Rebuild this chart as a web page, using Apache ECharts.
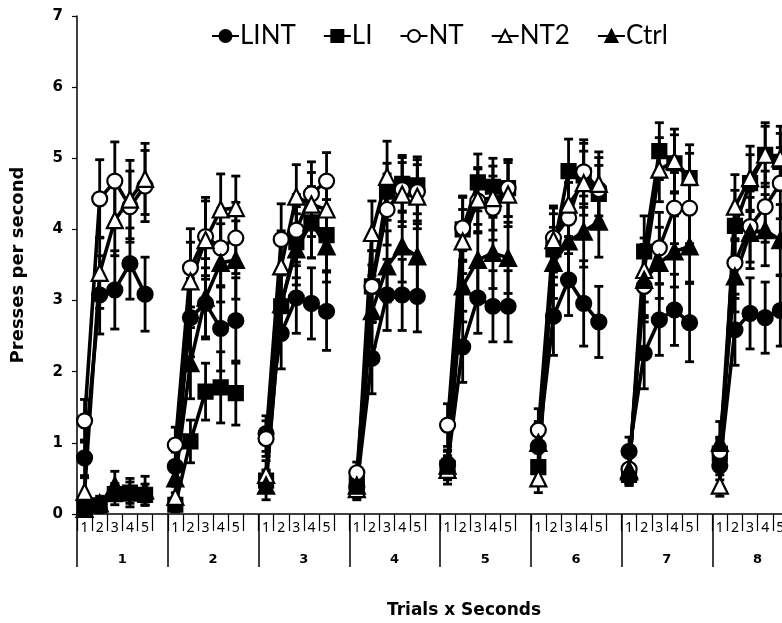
<!DOCTYPE html>
<html>
<head>
<meta charset="utf-8">
<script src="https://cdn.jsdelivr.net/npm/echarts@6/dist/echarts.min.js"></script>
<style>html,body{margin:0;padding:0;background:#fff;overflow:hidden;width:782px;height:623px}#c{width:804px;height:623px}</style>
</head>
<body>
<div id="c"></div>
<script>
// ---- data ----
const subLabels = ['1', '2', '3', '4', '5', ''];
const trialLabels = ['1', '2', '3', '4', '5', '6', '7', '8'];
const yTicks = [0, 1, 2, 3, 4, 5, 6, 7];

const LINT = [
  [0.79, 3.08, 3.15, 3.52, 3.09],
  [0.67, 2.76, 2.96, 2.61, 2.72],
  [1.13, 2.54, 3.04, 2.96, 2.85],
  [0.38, 2.19, 3.08, 3.08, 3.06],
  [0.70, 2.35, 3.04, 2.92, 2.92],
  [0.95, 2.78, 3.29, 2.96, 2.70],
  [0.88, 2.26, 2.73, 2.87, 2.69],
  [0.68, 2.59, 2.82, 2.76, 2.86]
];
const LI = [
  [0.10, 0.12, 0.28, 0.30, 0.27],
  [0.13, 1.02, 1.72, 1.78, 1.70],
  [0.47, 2.92, 3.82, 4.10, 3.92],
  [0.42, 3.20, 4.53, 4.64, 4.62],
  [0.65, 4.00, 4.66, 4.60, 4.58],
  [0.66, 3.72, 4.82, 4.76, 4.50],
  [0.55, 3.69, 5.10, 4.93, 4.72],
  [0.85, 4.05, 4.65, 5.05, 4.95]
];
const NT = [
  [1.31, 4.43, 4.68, 4.32, 4.61],
  [0.97, 3.46, 3.90, 3.74, 3.88],
  [1.06, 3.86, 3.99, 4.50, 4.68],
  [0.58, 3.20, 4.28, 4.56, 4.53],
  [1.25, 4.02, 4.40, 4.30, 4.58],
  [1.18, 3.88, 4.16, 4.81, 4.56],
  [0.63, 3.20, 3.74, 4.30, 4.30],
  [0.88, 3.53, 4.04, 4.32, 4.65]
];
const NT2 = [
  [0.31, 3.39, 4.13, 4.42, 4.71],
  [0.24, 3.27, 3.85, 4.28, 4.30],
  [0.55, 3.48, 4.46, 4.35, 4.28],
  [0.35, 3.95, 4.74, 4.49, 4.46],
  [0.62, 3.83, 4.42, 4.44, 4.49],
  [0.50, 3.85, 4.35, 4.65, 4.64],
  [0.60, 3.43, 4.84, 4.96, 4.74],
  [0.40, 4.32, 4.72, 5.05, 5.00]
];
const Ctrl = [
  [0.07, 0.15, 0.40, 0.30, 0.33],
  [0.50, 2.12, 3.04, 3.53, 3.57],
  [0.40, 2.95, 3.72, 4.10, 3.76],
  [0.40, 2.85, 3.48, 3.76, 3.62],
  [0.68, 3.20, 3.57, 3.67, 3.60],
  [1.00, 3.53, 3.83, 3.97, 4.11],
  [0.62, 3.29, 3.53, 3.69, 3.76],
  [1.00, 3.34, 3.95, 3.99, 3.85]
];
// standard errors
const LINT_se = [
  [0.25, 0.55, 0.55, 0.50, 0.52],
  [0.20, 0.55, 0.50, 0.60, 0.60],
  [0.25, 0.50, 0.50, 0.50, 0.55],
  [0.15, 0.50, 0.50, 0.50, 0.50],
  [0.20, 0.50, 0.50, 0.50, 0.50],
  [0.30, 0.55, 0.50, 0.60, 0.50],
  [0.20, 0.50, 0.50, 0.50, 0.55],
  [0.20, 0.50, 0.50, 0.50, 0.50]
];
const LI_se = [
  [0.05, 0.10, 0.15, 0.15, 0.15],
  [0.10, 0.30, 0.40, 0.50, 0.45],
  [0.15, 0.45, 0.50, 0.50, 0.50],
  [0.15, 0.50, 0.40, 0.40, 0.40],
  [0.15, 0.45, 0.40, 0.40, 0.40],
  [0.20, 0.50, 0.45, 0.45, 0.40],
  [0.10, 0.50, 0.40, 0.40, 0.35],
  [0.20, 0.50, 0.40, 0.40, 0.40]
];
const NT_se = [
  [0.30, 0.55, 0.55, 0.50, 0.50],
  [0.25, 0.55, 0.55, 0.55, 0.50],
  [0.25, 0.50, 0.50, 0.45, 0.40],
  [0.15, 0.50, 0.50, 0.45, 0.45],
  [0.30, 0.45, 0.45, 0.45, 0.40],
  [0.30, 0.45, 0.50, 0.45, 0.45],
  [0.20, 0.50, 0.50, 0.50, 0.50],
  [0.20, 0.50, 0.50, 0.50, 0.50]
];
const NT2_se = [
  [0.20, 0.50, 0.50, 0.55, 0.50],
  [0.15, 0.55, 0.55, 0.50, 0.45],
  [0.20, 0.50, 0.45, 0.45, 0.45],
  [0.15, 0.45, 0.50, 0.45, 0.45],
  [0.20, 0.45, 0.45, 0.45, 0.45],
  [0.20, 0.45, 0.45, 0.45, 0.45],
  [0.20, 0.45, 0.45, 0.45, 0.45],
  [0.15, 0.45, 0.45, 0.45, 0.45]
];
const Ctrl_se = [
  [0.05, 0.10, 0.20, 0.20, 0.20],
  [0.20, 0.50, 0.55, 0.55, 0.55],
  [0.20, 0.50, 0.50, 0.50, 0.50],
  [0.15, 0.50, 0.50, 0.50, 0.50],
  [0.20, 0.50, 0.50, 0.50, 0.50],
  [0.30, 0.50, 0.50, 0.50, 0.50],
  [0.20, 0.50, 0.50, 0.50, 0.50],
  [0.30, 0.50, 0.50, 0.50, 0.50]
];

// ---- build ----
const cats = [];
trialLabels.forEach((t, ti) => subLabels.forEach((s, si) => cats.push('t' + t + 's' + si)));

function flat(arr) {
  const out = [];
  arr.forEach(tr => { tr.forEach(v => out.push(v)); out.push(null); });
  return out;
}
function errData(mean, se) {
  const out = [];
  mean.forEach((tr, ti) => tr.forEach((v, j) => out.push([ti * 6 + j, v, se[ti][j]])));
  return out;
}

const FONT = 'DejaVu Sans';
const groups = [
  { name: 'LINT', data: LINT, se: LINT_se, symbol: 'circle', size: 15, fill: '#000' },
  { name: 'LI', data: LI, se: LI_se, symbol: 'rect', size: 14, fill: '#000' },
  { name: 'NT', data: NT, se: NT_se, symbol: 'circle', size: 15, fill: '#fff' },
  { name: 'NT2', data: NT2, se: NT2_se, symbol: 'triangle', size: 16, fill: '#fff' },
  { name: 'Ctrl', data: Ctrl, se: Ctrl_se, symbol: 'triangle', size: 16, fill: '#000' }
];

const series = [];
groups.forEach(g => {
  series.push({
    type: 'custom',
    name: g.name + '_err',
    xAxisIndex: 0,
    z: 1,
    silent: true,
    data: errData(g.data, g.se),
    renderItem: function (params, api) {
      const x = api.value(0), m = api.value(1), e = api.value(2);
      const top = api.coord([x, m + e]);
      const bot = api.coord([x, m - e]);
      const w = 4.5;
      const st = { stroke: '#000', lineWidth: 2.8 };
      return {
        type: 'group',
        children: [
          { type: 'line', shape: { x1: top[0], y1: top[1], x2: bot[0], y2: bot[1] }, style: st },
          { type: 'line', shape: { x1: top[0] - w, y1: top[1], x2: top[0] + w, y2: top[1] }, style: st },
          { type: 'line', shape: { x1: bot[0] - w, y1: bot[1], x2: bot[0] + w, y2: bot[1] }, style: st }
        ]
      };
    }
  });
});
groups.forEach(g => {
  series.push({
    type: 'line',
    name: g.name,
    xAxisIndex: 0,
    z: 3,
    data: flat(g.data),
    symbol: g.symbol,
    symbolSize: g.size,
    showAllSymbol: true,
    connectNulls: false,
    lineStyle: { color: '#000', width: 3.6 },
    itemStyle: { color: g.fill, borderColor: '#000', borderWidth: 2.2 },
    emphasis: { disabled: true },
    animation: false
  });
});

const chart = echarts.init(document.getElementById('c'), null, { renderer: 'canvas' });
chart.setOption({
  animation: false,
  backgroundColor: '#fff',
  title: {
    text: 'Trials x Seconds',
    left: 459, top: 597, textAlign: 'center',
    textStyle: { fontFamily: FONT, fontWeight: 'bold', fontSize: 17, color: '#000' }
  },
  legend: {
    data: groups.map(g => g.name),
    top: 18, left: 206,
    itemWidth: 27, itemHeight: 15, itemGap: 27,
    textStyle: { fontFamily: 'Lato', fontSize: 26, color: '#000', padding: [0, 0, 0, -4] },
    selectedMode: false
  },
  grid: { left: 77, top: 16, height: 498, width: 726, containLabel: false },
  xAxis: [
    {
      type: 'category', data: cats, position: 'bottom', boundaryGap: true,
      axisLine: { show: true, lineStyle: { color: '#000', width: 1.5 } },
      axisTick: { show: true, interval: 0, length: 17, lineStyle: { color: '#000', width: 1.2 } },
      axisLabel: {
        interval: 0, margin: 7, color: '#000', fontFamily: 'Noto Sans', fontSize: 14,
        formatter: (v, i) => subLabels[i % 6]
      },
      splitLine: { show: false }
    },
    {
      type: 'category', data: trialLabels, position: 'bottom', boundaryGap: true,
      axisLine: { show: false },
      axisTick: { show: true, interval: 0, length: 53, lineStyle: { color: '#000', width: 1.5 } },
      axisLabel: { interval: 0, margin: 39, color: '#000', fontFamily: FONT, fontWeight: 'bold', fontSize: 13 },
      splitLine: { show: false }
    }
  ],
  yAxis: {
    type: 'value', min: 0, max: 7, interval: 1,
    name: 'Presses per second', nameLocation: 'middle', nameGap: 50, nameRotate: 90,
    nameTextStyle: { fontFamily: FONT, fontWeight: 'bold', fontSize: 18, color: '#000' },
    axisLine: { show: true, lineStyle: { color: '#000', width: 1.5 } },
    axisTick: { show: true, length: 5, inside: false, lineStyle: { color: '#000', width: 1.2 } },
    axisLabel: { margin: 14, color: '#000', fontFamily: FONT, fontWeight: 'bold', fontSize: 15,
      formatter: v => yTicks.includes(v) ? String(v) : '' },
    splitLine: { show: false }
  },
  series: series
});
</script>
</body>
</html>
